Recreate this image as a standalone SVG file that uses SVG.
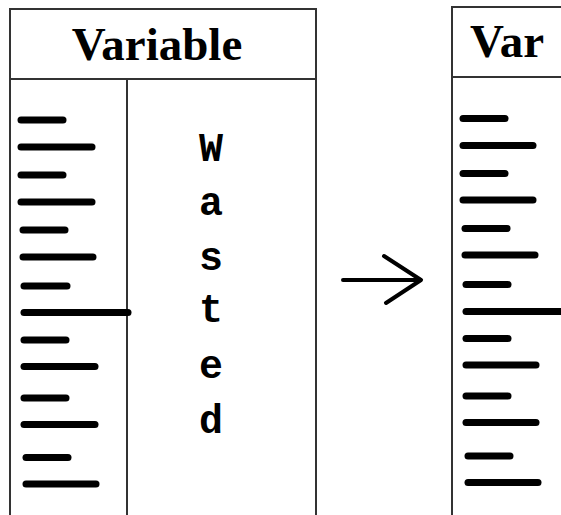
<svg xmlns="http://www.w3.org/2000/svg" width="561" height="515" viewBox="0 0 561 515">
<style>
.frame{fill:none;stroke:#333;stroke-width:2}
.bar{stroke:#000;stroke-width:7;stroke-linecap:round}
.hdr{font-family:"Liberation Serif","Times New Roman",serif;font-weight:bold;font-size:47px;fill:#000}
.mono{font-family:"Liberation Mono","Courier New",monospace;font-weight:bold;font-size:40px;fill:#000;text-anchor:middle}
.arrow{fill:none;stroke:#000;stroke-width:4;stroke-linecap:round;stroke-linejoin:round}
</style>
<rect width="561" height="515" fill="#fff"/>
<g id="left-box">
<path class="frame" d="M10,520 V9 H316 V520 M10,79 H316 M127,79 V520"/>
<text class="hdr" x="157" y="60" text-anchor="middle">Variable</text>
<g>
<line class="bar" x1="21" y1="120" x2="63" y2="120"/>
<line class="bar" x1="21" y1="147" x2="92" y2="147"/>
<line class="bar" x1="21" y1="175" x2="63" y2="175"/>
<line class="bar" x1="21" y1="202" x2="92" y2="202"/>
<line class="bar" x1="23" y1="230" x2="65" y2="230"/>
<line class="bar" x1="23" y1="257" x2="93" y2="257"/>
<line class="bar" x1="24" y1="286" x2="67" y2="286"/>
<line class="bar" x1="24" y1="312.5" x2="128" y2="312.5"/>
<line class="bar" x1="24" y1="340" x2="66" y2="340"/>
<line class="bar" x1="24" y1="366.5" x2="95" y2="366.5"/>
<line class="bar" x1="24" y1="398" x2="66" y2="398"/>
<line class="bar" x1="24" y1="424.5" x2="95" y2="424.5"/>
<line class="bar" x1="26" y1="457.5" x2="68" y2="457.5"/>
<line class="bar" x1="26" y1="484" x2="96" y2="484"/>
</g>
<text class="mono" x="211" y="161">W</text>
<text class="mono" x="211" y="215">a</text>
<text class="mono" x="211" y="270">s</text>
<text class="mono" x="211" y="322">t</text>
<text class="mono" x="211" y="378">e</text>
<text class="mono" x="211" y="433">d</text>
</g>
<g id="connectors">
<path class="arrow" d="M343,280 H421 M384,256 L421,280 L386,303"/>
</g>
<g id="right-box">
<path class="frame" d="M452,520 V7 H570 M452,77 H570"/>
<text class="hdr" x="470" y="57">Var</text>
<g>
<line class="bar" x1="463" y1="118.5" x2="505" y2="118.5"/>
<line class="bar" x1="463" y1="145.5" x2="533" y2="145.5"/>
<line class="bar" x1="463" y1="173.5" x2="505" y2="173.5"/>
<line class="bar" x1="463" y1="200" x2="533" y2="200"/>
<line class="bar" x1="465" y1="228.5" x2="507" y2="228.5"/>
<line class="bar" x1="465" y1="255" x2="535" y2="255"/>
<line class="bar" x1="466" y1="284.5" x2="508" y2="284.5"/>
<line class="bar" x1="466" y1="311.5" x2="575" y2="311.5"/>
<line class="bar" x1="466" y1="338.5" x2="508" y2="338.5"/>
<line class="bar" x1="466" y1="365" x2="536" y2="365"/>
<line class="bar" x1="466" y1="396" x2="508" y2="396"/>
<line class="bar" x1="466" y1="422.5" x2="536" y2="422.5"/>
<line class="bar" x1="468" y1="456" x2="510" y2="456"/>
<line class="bar" x1="468" y1="482.5" x2="538" y2="482.5"/>
</g>
</g>
</svg>
